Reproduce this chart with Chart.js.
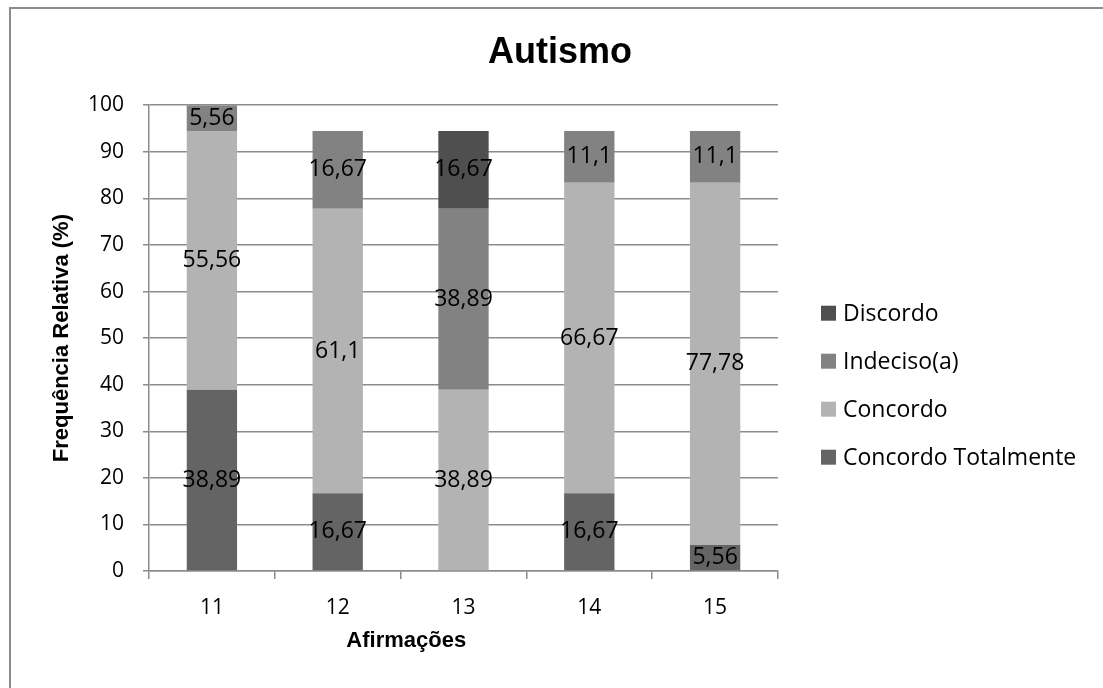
<!DOCTYPE html>
<html>
<head>
<meta charset="utf-8">
<script src="https://cdn.jsdelivr.net/npm/chart.js@4.4.0/dist/chart.umd.min.js"></script>
<style>
  html, body { margin: 0; padding: 0; background: #fff; }
  #frame { position: absolute; left: 9px; top: 7px; width: 1200px; height: 800px;
           border-left: 2px solid #8c8c8c; border-top: 2px solid #8c8c8c; }
  #wrap { position: absolute; left: 0; top: 0; width: 1103px; height: 688px; }
</style>
</head>
<body>
<div id="frame"></div>
<div id="wrap"><canvas id="autismoChart"></canvas></div>
<script>
// DATA
const afirmacoes = ['11', '12', '13', '14', '15'];
const concordoTotalmente = [38.89, 16.67, 0, 16.67, 5.56];
const concordo = [55.56, 61.1, 38.89, 66.67, 77.78];
const indeciso = [5.56, 16.67, 38.89, 11.1, 11.1];
const discordo = [0, 0, 16.67, 0, 0];
const yTicks = [0, 10, 20, 30, 40, 50, 60, 70, 80, 90, 100];

// value labels in the middle of each segment
const barLabels = {
    id: 'barLabels',
    afterDatasetsDraw(chart) {
        const ctx = chart.ctx;
        ctx.save();
        ctx.font = '23px "Open Sans"';
        ctx.fillStyle = '#000';
        ctx.textAlign = 'center';
        ctx.textBaseline = 'middle';
        chart.data.datasets.forEach((ds, i) => {
            chart.getDatasetMeta(i).data.forEach((bar, j) => {
                const v = ds.data[j];
                if (!v) return;
                ctx.fillText(String(v).replace('.', ','), bar.x, (bar.y + bar.base) / 2);
            });
        });
        ctx.restore();
    }
};

// legend on the right, last series on top (like excel)
const sideLegend = {
    id: 'sideLegend',
    afterDraw(chart) {
        const {ctx, chartArea} = chart;
        const items = chart.data.datasets.map(ds => ({ text: ds.label, color: ds.backgroundColor })).reverse();
        ctx.save();
        ctx.font = '23px "Open Sans"';
        ctx.textAlign = 'left';
        ctx.textBaseline = 'middle';
        items.forEach((it, i) => {
            const y = chartArea.top + 208 + i * 48;
            ctx.fillStyle = it.color;
            ctx.fillRect(chartArea.right + 43, y - 7.5, 15, 15);
            ctx.fillStyle = '#000';
            ctx.fillText(it.text, chartArea.right + 65, y + 1);
        });
        ctx.restore();
    }
};

// x axis title, sits a bit left of the plot centre in the original
const xTitle = {
    id: 'xTitle',
    afterDraw(chart) {
        const {ctx, chartArea} = chart;
        ctx.save();
        ctx.font = 'bold 22px "Liberation Sans"';
        ctx.fillStyle = '#000';
        ctx.textAlign = 'center';
        ctx.textBaseline = 'middle';
        ctx.fillText('Afirmações', chartArea.left + (chartArea.right - chartArea.left) * 0.409, chartArea.bottom + 70);
        ctx.restore();
    }
};

function drawChart() {
    new Chart(document.getElementById('autismoChart'), {
        type: 'bar',
        data: {
            labels: afirmacoes,
            datasets: [
                { label: 'Concordo Totalmente', data: concordoTotalmente, backgroundColor: '#646464' },
                { label: 'Concordo', data: concordo, backgroundColor: '#b3b3b3' },
                { label: 'Indeciso(a)', data: indeciso, backgroundColor: '#828282' },
                { label: 'Discordo', data: discordo, backgroundColor: '#4f4f4f' }
            ]
        },
        plugins: [barLabels, sideLegend, xTitle],
        options: {
            responsive: true,
            maintainAspectRatio: false,
            animation: false,
            datasets: { bar: { categoryPercentage: 1, barPercentage: 0.4, borderWidth: 0 } },
            layout: { padding: { left: 49, right: 32, top: 0, bottom: 35 } },
            scales: {
                x: {
                    stacked: true,
                    afterFit: (scale) => { scale.height = 82; },
                    grid: { display: true, drawOnChartArea: false, tickLength: 8, color: '#8c8c8c', lineWidth: 1.5 },
                    border: { color: '#8c8c8c', width: 1.5 },
                    ticks: { color: '#000', padding: 16, font: { family: 'Open Sans', size: 21 } }
                },
                y: {
                    stacked: true,
                    min: 0, max: 100,
                    afterFit: (scale) => { scale.width = 100; },
                    afterBuildTicks: (axis) => { axis.ticks = yTicks.map(v => ({ value: v })); },
                    grid: { color: '#8c8c8c', lineWidth: 1.5, tickLength: 6 },
                    border: { color: '#8c8c8c', width: 1.5 },
                    ticks: { color: '#000', padding: 19, font: { family: 'Open Sans', size: 21 } },
                    title: { display: true, text: 'Frequência Relativa (%)', color: '#000',
                             font: { family: 'Liberation Sans', size: 22, weight: 'bold' }, padding: 0 }
                },
                // empty axis on the right, only reserves room for the legend
                legendRoom: {
                    axis: 'y',
                    position: 'right',
                    afterFit: (scale) => { scale.width = 293; },
                    grid: { display: false },
                    border: { display: false },
                    ticks: { display: false }
                }
            },
            plugins: {
                title: {
                    display: true, text: 'Autismo', color: '#000',
                    font: { family: 'Liberation Sans', size: 36, weight: 'bold' },
                    padding: { top: 31, bottom: 31 }
                },
                legend: { display: false },
                tooltip: { enabled: false }
            }
        }
    });
}

Promise.all([
    document.fonts.load('22px "Open Sans"'),
    document.fonts.load('bold 22px "Liberation Sans"')
]).then(drawChart, drawChart);
</script>
</body>
</html>
